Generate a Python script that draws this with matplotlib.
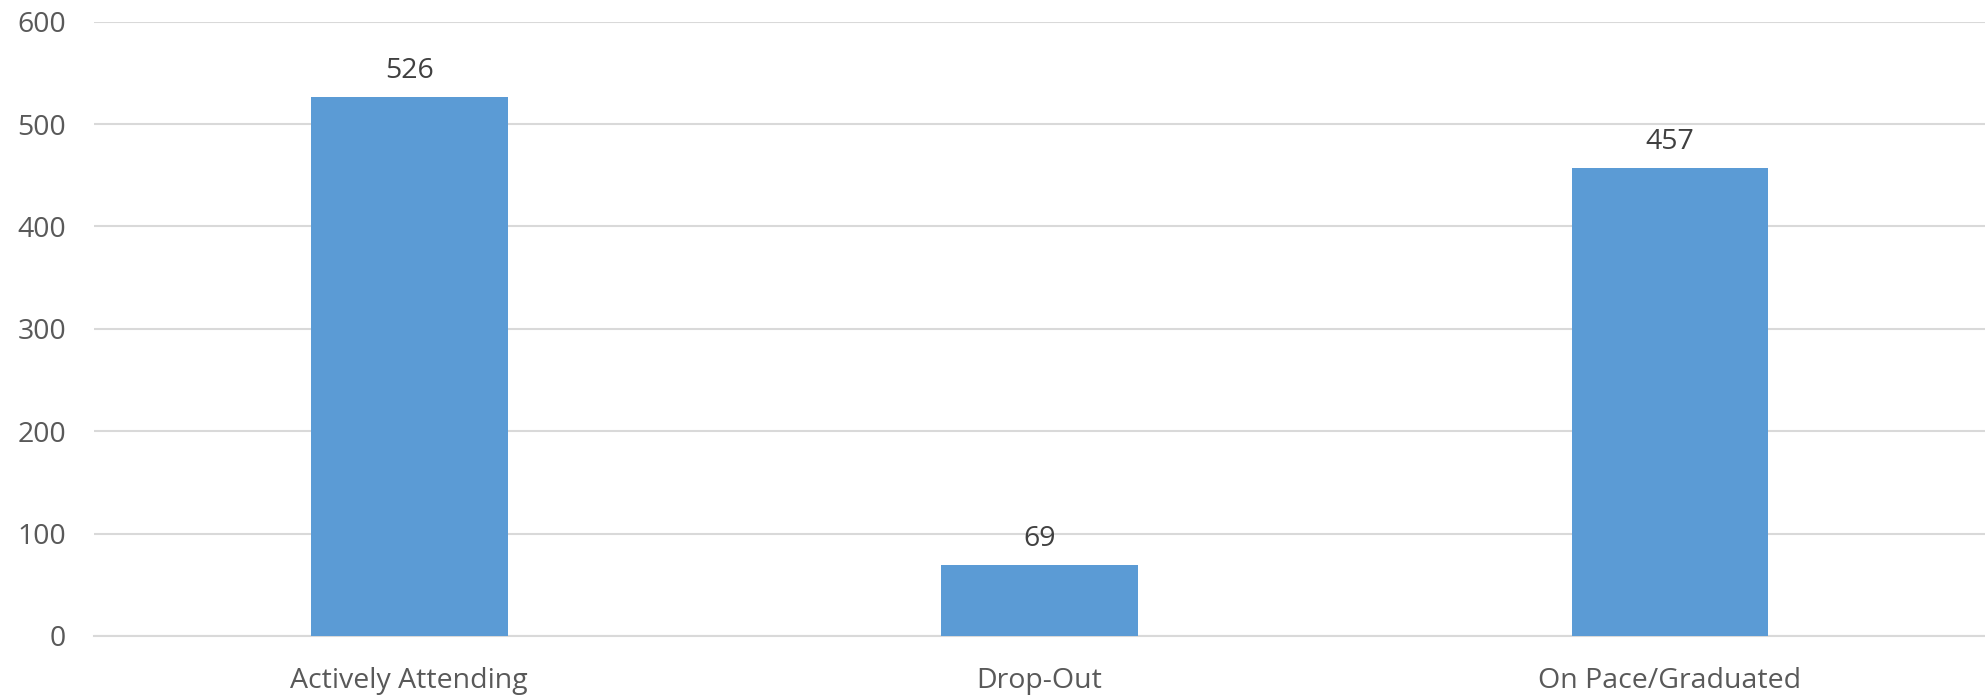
import matplotlib
matplotlib.use("Agg")
import matplotlib.pyplot as plt

categories = ["Actively Attending", "Drop-Out", "On Pace/Graduated"]
counts = [526, 69, 457]
y_ticks = [0, 100, 200, 300, 400, 500, 600]

plt.rcParams['font.family'] = ['Open Sans', 'DejaVu Sans']

fig = plt.figure(figsize=(19.85, 6.95), dpi=100)
ax = fig.add_axes([0.0474, 0.0849, 0.9526, 0.884])

x = range(len(categories))
bars = ax.bar(x, counts, width=0.312, color='#5B9BD5', zorder=3)

ax.set_xlim(-0.5, len(categories) - 0.5)
ax.set_ylim(0, 600)
ax.set_yticks(y_ticks)
ax.set_xticks(list(x))
ax.set_xticklabels(categories)
ax.yaxis.grid(True, color='#D9D9D9', linewidth=1.5, zorder=0)
ax.set_axisbelow(True)

for side in ['top', 'right', 'left']:
    ax.spines[side].set_visible(False)
ax.spines['bottom'].set_color('#D9D9D9')
ax.spines['bottom'].set_linewidth(1.5)

ax.tick_params(axis='both', length=0, labelsize=20.5, labelcolor='#595959')
ax.tick_params(axis='y', pad=20)
ax.tick_params(axis='x', pad=22)

for bar, v in zip(bars, counts):
    ax.annotate(str(v), (bar.get_x() + bar.get_width() / 2, v),
                xytext=(0, 9), textcoords='offset points',
                ha='center', va='bottom', fontsize=20.5, color='#404040')

fig.savefig('out.png', dpi=100)
